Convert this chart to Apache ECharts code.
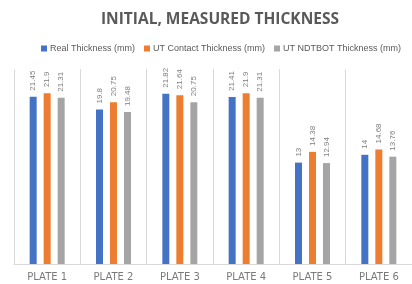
<!DOCTYPE html>
<html>
<head>
<meta charset="utf-8">
<script src="https://cdn.jsdelivr.net/npm/echarts@6/dist/echarts.min.js"></script>
<style>
html, body { margin: 0; padding: 0; background: #fff; }
#chart { width: 412px; height: 284px; }
</style>
</head>
<body>
<div id="chart"></div>
<script>
// chart data
var plates = ['PLATE 1', 'PLATE 2', 'PLATE 3', 'PLATE 4', 'PLATE 5', 'PLATE 6'];
var realThk = [21.45, 19.8, 21.82, 21.41, 13, 14];
var contactThk = [21.9, 20.75, 21.64, 21.9, 14.38, 14.68];
var ndtbotThk = [21.31, 19.48, 20.75, 21.31, 12.94, 13.76];
var seriesNames = ['Real Thickness (mm)', 'UT Contact Thickness (mm)', 'UT NDTBOT Thickness (mm)'];
var colors = ['#4472C4', '#ED7D31', '#A5A5A5'];

var myChart = echarts.init(document.getElementById('chart'));

function barSeries(name, data, color) {
    return {
        name: name,
        type: 'bar',
        data: data,
        barWidth: 7,
        barGap: '100%',
        itemStyle: { color: color },
        label: {
            show: true,
            position: 'top',
            rotate: 90,
            align: 'left',
            verticalAlign: 'middle',
            distance: 6,
            color: '#7f7f7f',
            fontSize: 8,
            fontFamily: 'Liberation Sans'
        }
    };
}

var option = {
    animation: false,
    color: colors,
    title: {
        text: 'INITIAL, MEASURED THICKNESS',
        left: 215,
        textAlign: 'center',
        top: 7,
        textStyle: {
            color: '#595959',
            fontSize: 15.5,
            fontWeight: 'bold',
            fontFamily: 'Open Sans'
        }
    },
    legend: {
        data: seriesNames,
        top: 39,
        left: 36,
        width: 380,
        itemWidth: 6,
        itemHeight: 6,
        itemGap: 9,
        icon: 'rect',
        textStyle: {
            color: '#595959',
            fontSize: 9,
            fontFamily: 'Liberation Sans',
            padding: [0, 0, 0, -2]
        }
    },
    grid: {
        left: 14,
        right: -7,
        top: 69,
        bottom: 20,
        containLabel: false
    },
    xAxis: {
        type: 'category',
        data: plates,
        axisLine: { lineStyle: { color: '#d9d9d9' } },
        axisTick: { show: false },
        splitLine: { show: true, lineStyle: { color: '#d9d9d9' } },
        axisLabel: {
            color: '#7a7a7a',
            fontSize: 10,
            fontFamily: 'DejaVu Sans',
            margin: 8
        }
    },
    yAxis: {
        type: 'value',
        min: 0,
        max: 25,
        show: false,
        splitLine: { show: false }
    },
    series: [
        barSeries(seriesNames[0], realThk, colors[0]),
        barSeries(seriesNames[1], contactThk, colors[1]),
        barSeries(seriesNames[2], ndtbotThk, colors[2])
    ]
};

myChart.setOption(option);
</script>
</body>
</html>
